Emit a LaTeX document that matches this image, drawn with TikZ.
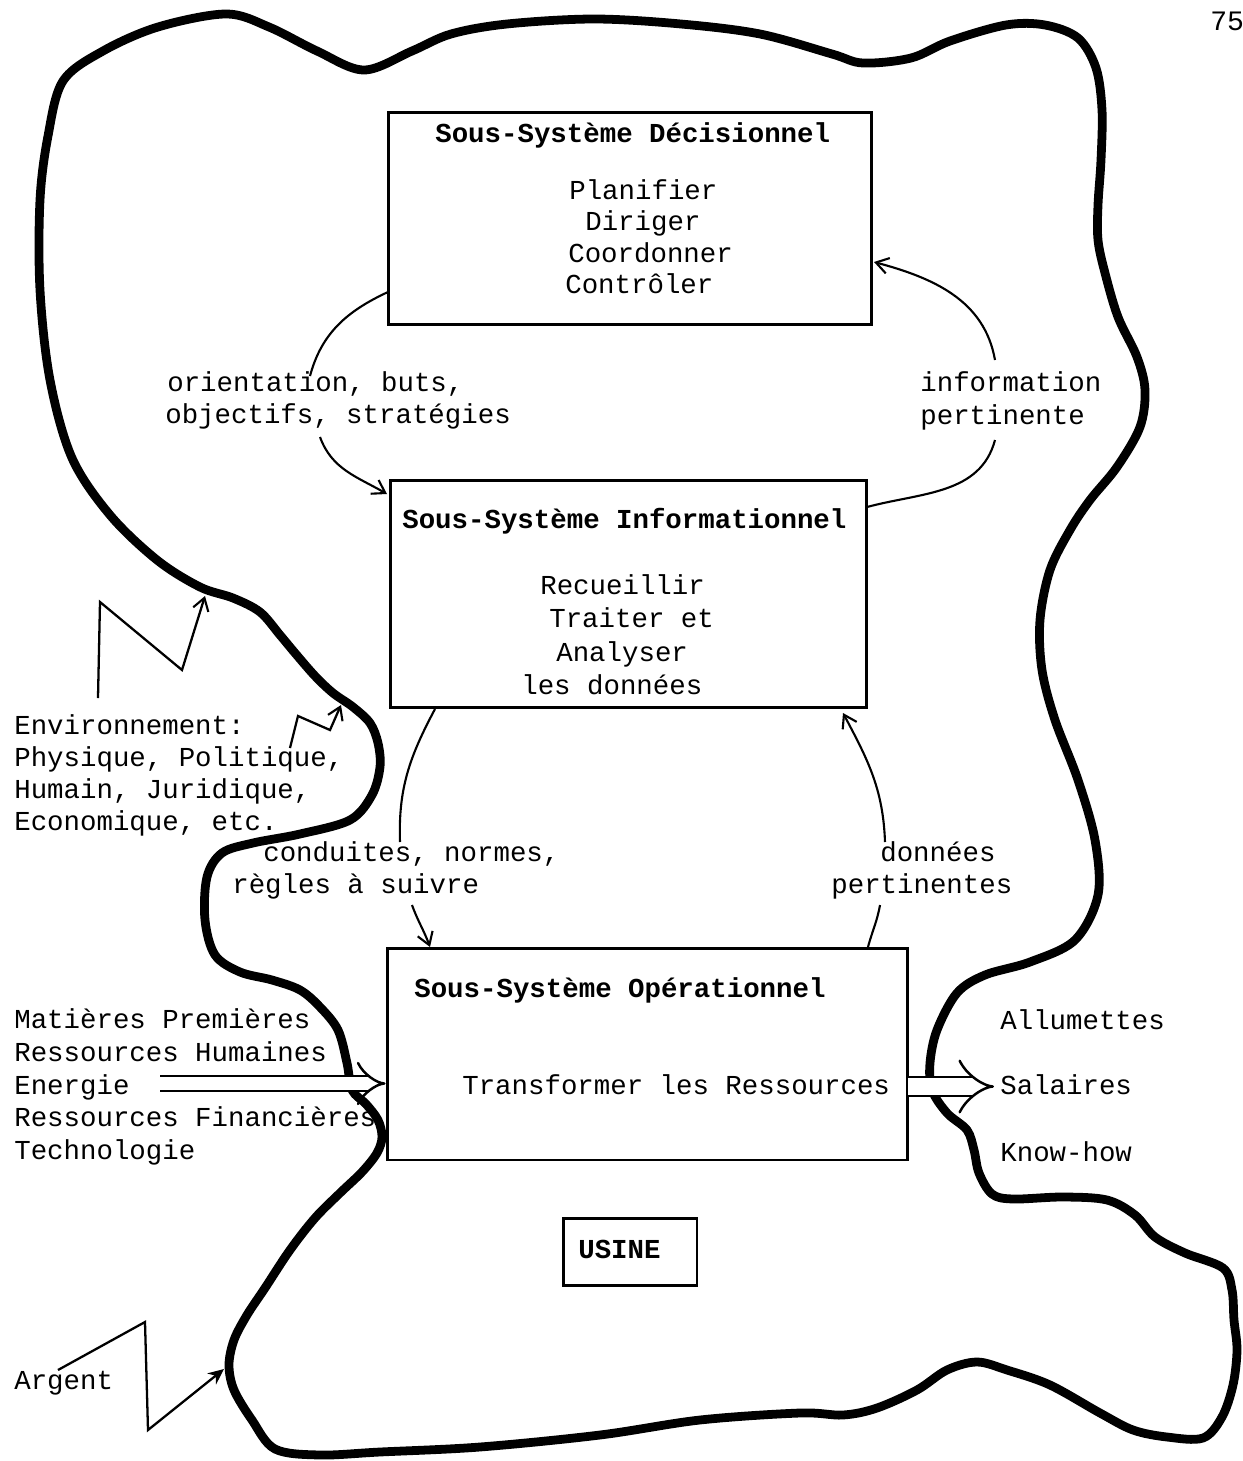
\documentclass[tikz,border=0pt]{standalone}
\usepackage{fontspec}
\newfontfamily\tw{Liberation Mono}
\usetikzlibrary{arrows.meta}
\begin{document}
\begin{tikzpicture}[x=0.02cm,y=-0.02cm,
  lbl/.style={anchor=base west, inner sep=0pt, font=\tw\fontsize{15.6}{18.6}\selectfont},
  ttl/.style={lbl, font=\tw\bfseries\fontsize{15.6}{18.6}\selectfont},
  box/.style={draw, line width=1.7pt, inner sep=0pt},
  blob/.style={line width=5pt, line join=round, line cap=round},
  conn/.style={line width=1.2pt},
  tip/.style={-{Straight Barb[length=7pt,width=9pt,line width=1.2pt]}},
  zig/.style={line width=1.3pt, line join=miter},
  dbl/.style={double, double distance=#1, line width=1.4pt, -{Implies[length=8pt]}}
]
\useasboundingbox (0,0) rectangle (1243,1461);

% outline of the factory (USINE)
\draw[blob] plot[smooth cycle, tension=0.55] coordinates {
(40,200) (48,136) (63,81) (103,51) (158,27) (226,14) (269,27) (317,51) (364,70) (412,51) (451,34) (507,24) (594,19) (681,24) (760,34) (832,54) (863,63) (911,58) (950,41) (1006,25) (1045,25) (1078,38) (1096,68) (1102,110) (1101,160) (1098,205) (1098,240) (1105,273) (1118,317) (1137,357) (1145,390) (1140,427) (1117,467) (1090,500) (1070,530) (1050,570) (1040,620) (1042,670) (1055,720) (1078,780) (1095,840) (1098,895) (1075,940) (1030,962) (985,975) (957,993) (937,1030) (930,1063) (932,1090) (947,1113) (967,1130) (974,1150) (979,1173) (992,1194) (1013,1199) (1063,1197) (1107,1200) (1135,1215) (1155,1237) (1185,1253) (1223,1268) (1232,1290) (1234,1320) (1237,1350) (1233,1385) (1222,1417) (1203,1438) (1167,1437) (1133,1430) (1100,1413) (1050,1385) (1007,1370) (977,1362) (947,1370) (917,1390) (877,1408) (843,1415) (800,1413) (700,1420) (600,1435) (480,1447) (380,1452) (320,1455) (275,1449) (252,1420) (234,1390) (229,1365) (234,1340) (247,1315) (265,1288) (290,1250) (315,1218) (340,1193) (362,1172) (377,1153) (382,1137) (378,1120) (366,1104) (352,1090) (347,1063) (338,1030) (320,1007) (300,990) (272,980) (240,972) (215,955) (205,920) (207,877) (222,853) (253,843) (300,834) (350,820) (372,795) (380,767) (378,743) (370,723) (353,707) (333,693) (315,676) (295,653) (280,635) (260,612) (233,598) (200,587) (157,560) (110,515) (72,458) (50,380) (40,290)};

% boxes
\node[box, minimum width=9.68cm, minimum height=4.26cm] (dec) at (630,218.5) {};
\node[box, minimum width=9.54cm, minimum height=4.56cm] (inf) at (628.5,594) {};
\node[box, minimum width=10.42cm, minimum height=4.24cm] (op) at (647.5,1054) {};
\node[box, minimum width=2.68cm, minimum height=1.34cm] (us) at (630,1251.5) {};

% box texts
\node[ttl] (dt) at (435,142) {Sous-Système Décisionnel};
\node[lbl] (d1) at (569,199) {Planifier};
\node[lbl] (d2) at (585,230) {Diriger};
\node[lbl] (d3) at (568,262) {Coordonner};
\node[lbl] (d4) at (565,293) {Contrôler};

\node[ttl] (it) at (402,528) {Sous-Système Informationnel};
\node[lbl] (i1) at (540,594) {Recueillir};
\node[lbl] (i2) at (549,627) {Traiter et};
\node[lbl] (i3) at (556,661) {Analyser};
\node[lbl] (i4) at (521,694) {les données};

\node[ttl] (ot) at (414,997) {Sous-Système Opérationnel};
\node[lbl] (o1) at (462,1094) {Transformer les Ressources};
\node[ttl] (ut) at (578,1258) {USINE};

% flow labels
\node[lbl] (l1) at (167,391) {orientation, buts,};
\node[lbl] (l2) at (165,423) {objectifs, stratégies};
\node[lbl] (r1) at (920,391) {information};
\node[lbl] (r2) at (920,424) {pertinente};
\node[lbl] (l3) at (263,861) {conduites, normes,};
\node[lbl] (l4) at (232,893) {règles à suivre};
\node[lbl] (r3) at (880,861) {données};
\node[lbl] (r4) at (831,893) {pertinentes};

% environment
\node[lbl] (e1) at (14,734) {Environnement:};
\node[lbl] (e2) at (14,766) {Physique, Politique,};
\node[lbl] (e3) at (14,798) {Humain, Juridique,};
\node[lbl] (e4) at (14,830) {Economique, etc.};

% inputs
\node[lbl] (m1) at (14,1028) {Matières Premières};
\node[lbl] (m2) at (14,1061) {Ressources Humaines};
\node[lbl] (m3) at (14,1094) {Energie};
\node[lbl] (m4) at (14,1126) {Ressources Financières};
\node[lbl] (m5) at (14,1159) {Technologie};

% outputs
\node[lbl] (s1) at (1000,1029) {Allumettes};
\node[lbl] (s2) at (1000,1094) {Salaires};
\node[lbl] (s3) at (1000,1161) {Know-how};

\node[lbl] (ag) at (14,1389) {Argent};
\node[lbl, font=\tw\fontsize{16}{18}\selectfont] (pg) at (1210,30) {75};

% connector end points
\coordinate (c1a) at (388,292);  \coordinate (c1b) at (310,376);
\coordinate (c2a) at (320,437);  \coordinate (c2b) at (387,494);
\coordinate (c3a) at (995,360);  \coordinate (c3b) at (874,262);
\coordinate (c4a) at (995,440);  \coordinate (c4b) at (867,507);
\coordinate (c5a) at (435,709);  \coordinate (c5b) at (400,842);
\coordinate (c6a) at (412,905);  \coordinate (c6b) at (430,947);
\coordinate (c7a) at (885,842);  \coordinate (c7b) at (843,713);
\coordinate (c8a) at (880,905);  \coordinate (c8b) at (868,947);

\draw[conn] (c1a) to[out=205,in=75] (c1b);
\draw[conn,tip] (c2a) to[out=-70,in=150] (c2b);
\draw[conn,tip] (c3a) to[out=100,in=-15] (c3b);
\draw[conn] (c4a) to[out=-105,in=15] (c4b);
\draw[conn] (c5a) to[out=-118,in=92] (c5b);
\draw[conn,tip] (c6a) to[out=-70,in=110] (c6b);
\draw[conn,tip] (c7a) to[out=92,in=-62] (c7b);
\draw[conn] (c8a) to[out=-100,in=75] (c8b);

% input / output double arrows
\coordinate (inA) at (160,1083.5);
\draw[dbl=0.26cm] (inA) -- (op.west |- inA);
\coordinate (outA) at (908,1086.5);
\coordinate (outB) at (994,1086.5);
\draw[dbl=0.34cm] (outA) -- (outB);

% environment zigzags
\coordinate (z1a) at (98,698); \coordinate (z1b) at (100,602);
\coordinate (z1c) at (182,670); \coordinate (z1d) at (205,596);
\draw[zig,tip] (z1a) -- (z1b) -- (z1c) -- (z1d);
\coordinate (z2a) at (290,748); \coordinate (z2b) at (298,716);
\coordinate (z2c) at (330,730); \coordinate (z2d) at (341,705);
\draw[zig,tip] (z2a) -- (z2b) -- (z2c) -- (z2d);
\coordinate (z3a) at (58,1370); \coordinate (z3b) at (145,1322);
\coordinate (z3c) at (148,1430); \coordinate (z3d) at (224,1369);
\draw[zig,-{Stealth[length=9pt,width=8pt]}] (z3a) -- (z3b) -- (z3c) -- (z3d);
\end{tikzpicture}
\end{document}
